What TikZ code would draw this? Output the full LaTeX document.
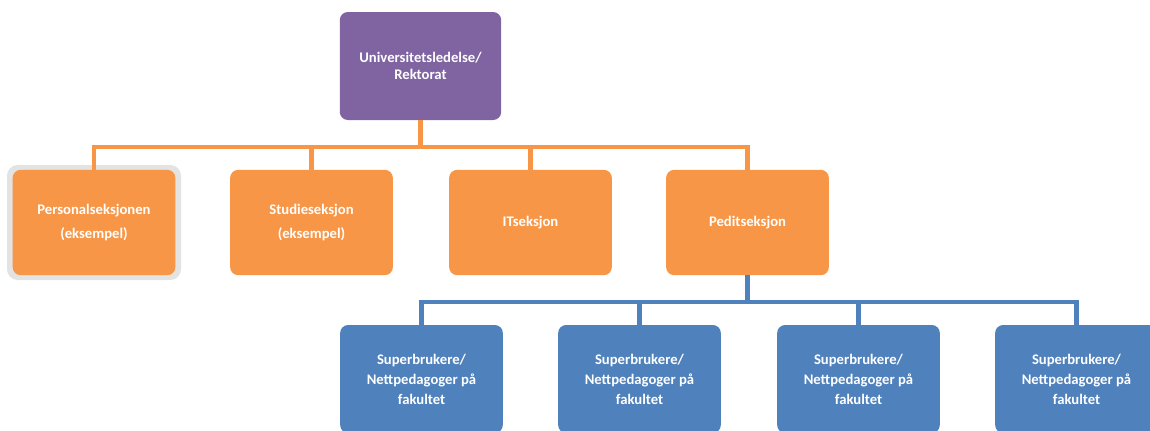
\documentclass[tikz,border=0pt]{standalone}
\usepackage{fontspec}
\setmainfont{Carlito}
\definecolor{cpurple}{HTML}{8064A2}
\definecolor{corange}{HTML}{F79646}
\definecolor{cblue}{HTML}{4F81BD}
\definecolor{cgrayb}{HTML}{E3E3E3}
\begin{document}
\begin{tikzpicture}[x=0.75pt,y=-0.75pt,
  box/.style={rounded corners=6pt, minimum width=122pt, minimum height=79pt, inner sep=0pt,
    align=center, text=white, font=\bfseries\fontsize{11}{13}\selectfont},
  topbox/.style={box, fill=cpurple, minimum width=121pt, minimum height=81pt},
  obox/.style={box, fill=corange, font=\bfseries\fontsize{11}{18}\selectfont},
  bbox/.style={box, fill=cblue, minimum height=81pt, font=\bfseries\fontsize{11}{15}\selectfont},
  oline/.style={draw=corange, line width=3.2pt},
  bline/.style={draw=cblue, line width=3.2pt}]
\useasboundingbox (0,0) rectangle (1150,430);
\clip (0,0) rectangle (1150,430);
% top
\node[topbox] (top) at (420.5,66) {Universitetsledelse/\\Rektorat};
% gray frame behind first box
\fill[cgrayb, rounded corners=8pt] (7,165) rectangle (181,280);
\node[obox] (p1) at (94,222.5) {Personalseksjonen\\(eksempel)};
\node[obox] (p2) at (311.5,222.5) {Studieseksjon\\(eksempel)};
\node[obox] (p3) at (530.5,222.5) {ITseksjon};
\node[obox] (p4) at (747.5,222.5) {Peditseksjon};
\node[bbox] (b1) at (421.5,379) {Superbrukere/\\Nettpedagoger på\\fakultet};
\node[bbox] (b2) at (639.5,379) {Superbrukere/\\Nettpedagoger på\\fakultet};
\node[bbox] (b3) at (858.5,379) {Superbrukere/\\Nettpedagoger på\\fakultet};
\node[bbox] (b4) at (1076.5,379) {Superbrukere/\\Nettpedagoger på\\fakultet};
% orange connectors
\coordinate (ob) at (420.5,147);
\draw[oline] (top.south) -- (ob);
\foreach \n in {p1,p2,p3,p4} \draw[oline] (ob) -| (\n.north);
% blue connectors
\coordinate (bb) at (747.5,302);
\draw[bline] (p4.south) -- (bb);
\foreach \n in {b1,b2,b3,b4} \draw[bline] (bb) -| (\n.north);
\end{tikzpicture}
\end{document}
